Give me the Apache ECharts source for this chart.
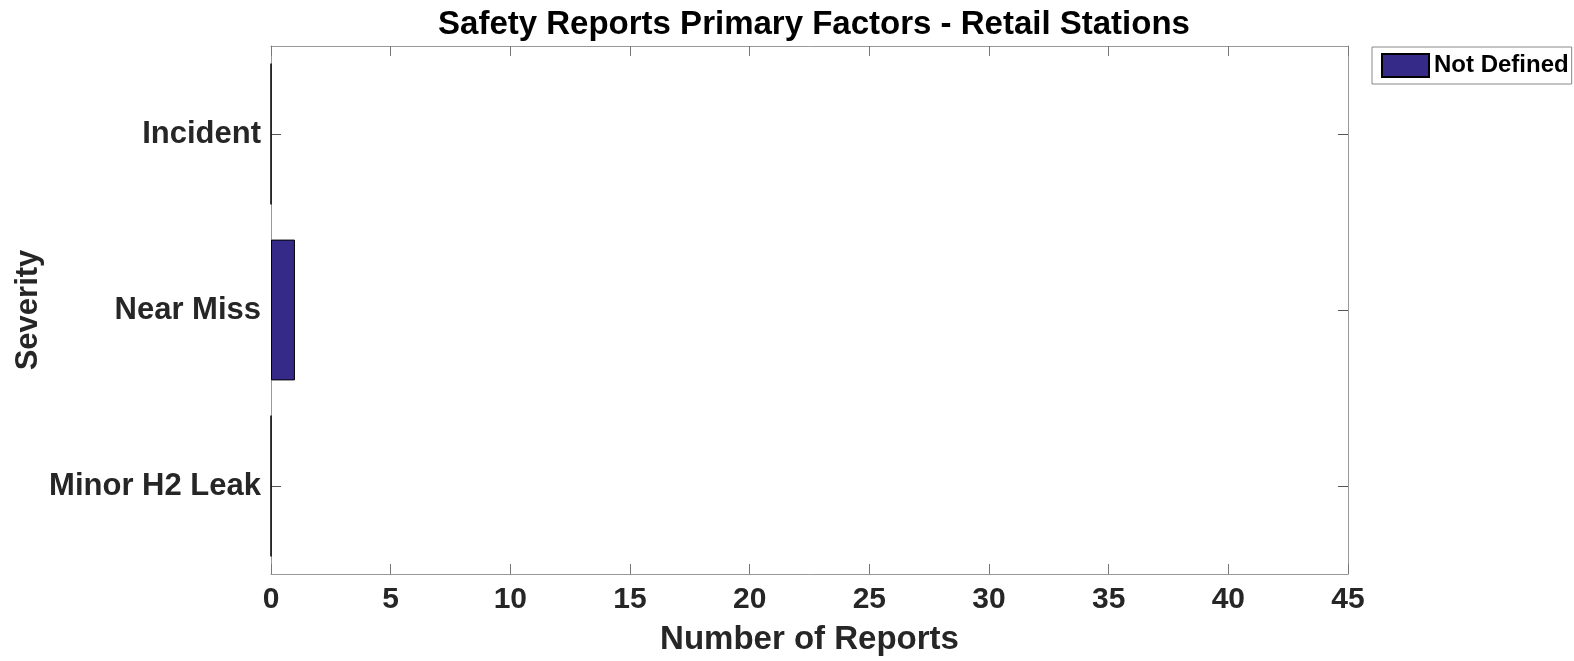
<!DOCTYPE html>
<html lang="en">
<head>
    <meta charset="UTF-8">
    <title>Safety Reports Primary Factors</title>
    <style>
        *{
            margin: 0;
            padding: 0;
        }
        .main{
            width: 1574px;
            height: 661px;
            background: #ffffff;
        }
    </style>
    <script src="https://cdn.jsdelivr.net/npm/echarts@6/dist/echarts.min.js"></script>
</head>
<body>
<div class="main"></div>
<script>
    // data
    let severities = ['Minor H2 Leak', 'Near Miss', 'Incident'];
    let seriesName = 'Not Defined';
    let notDefined = [0, 1, 0];
    let xMin = 0, xMax = 45, xStep = 5;

    let main = document.querySelector('.main');
    let chart = echarts.init(main);
    let font = 'Arial, "Liberation Sans", sans-serif';
    let labelColor = '#262626';

    // matlab style box: ticks inside on all four sides
    let valueAxis = (pos, showLabel) => ({
        type: 'value',
        position: pos,
        min: xMin,
        max: xMax,
        interval: xStep,
        splitLine: {show: false},
        axisLine: {show: true, onZero: false, lineStyle: {color: '#999', width: 1}},
        axisTick: {show: true, inside: true, length: 10, lineStyle: {color: '#777'}},
        axisLabel: {
            show: showLabel,
            color: labelColor,
            fontFamily: font,
            fontWeight: 'bold',
            fontSize: 30,
            margin: 11
        }
    });
    let catAxis = (pos, showLabel) => ({
        type: 'category',
        position: pos,
        data: severities,
        axisLine: {show: true, onZero: false, lineStyle: {color: '#999', width: 1}},
        axisTick: {show: true, inside: true, length: 10, alignWithLabel: true, lineStyle: {color: '#555'}},
        axisLabel: {
            show: showLabel,
            color: labelColor,
            fontFamily: font,
            fontWeight: 'bold',
            fontSize: 31,
            margin: 10
        }
    });

    let xBottom = valueAxis('bottom', true);
    xBottom.name = 'Number of Reports';
    xBottom.nameLocation = 'middle';
    xBottom.nameGap = 49;
    xBottom.nameTextStyle = {color: labelColor, fontFamily: font, fontWeight: 'bold', fontSize: 33};

    let yLeft = catAxis('left', true);
    yLeft.name = 'Severity';
    yLeft.nameLocation = 'middle';
    yLeft.nameGap = 227;
    yLeft.nameMoveOverlap = false;
    yLeft.nameTextStyle = {color: labelColor, fontFamily: font, fontWeight: 'bold', fontSize: 31};

    let option = {
        animation: false,
        backgroundColor: '#ffffff',
        title: {
            text: 'Safety Reports Primary Factors - Retail Stations',
            left: 809,
            textAlign: 'center',
            top: 3,
            textStyle: {color: '#000', fontFamily: font, fontWeight: 'bold', fontSize: 33}
        },
        legend: {
            data: [seriesName],
            left: 1372,
            top: 47,
            padding: [6, 3, 6, 9],
            itemGap: 0,
            itemWidth: 47,
            itemHeight: 23,
            borderColor: '#888',
            borderWidth: 1,
            icon: 'rect',
            textStyle: {color: '#000', fontFamily: font, fontWeight: 'bold', fontSize: 24}
        },
        grid: {
            left: 271,
            right: 226,
            top: 46,
            bottom: 85,
            containLabel: false
        },
        xAxis: [xBottom, valueAxis('top', false)],
        yAxis: [yLeft, catAxis('right', false)],
        series: [{
            name: seriesName,
            type: 'bar',
            data: notDefined,
            barCategoryGap: '20%',
            itemStyle: {color: '#352a87', borderColor: '#000', borderWidth: 1}
        }]
    };
    chart.setOption(option);
</script>
</body>
</html>
